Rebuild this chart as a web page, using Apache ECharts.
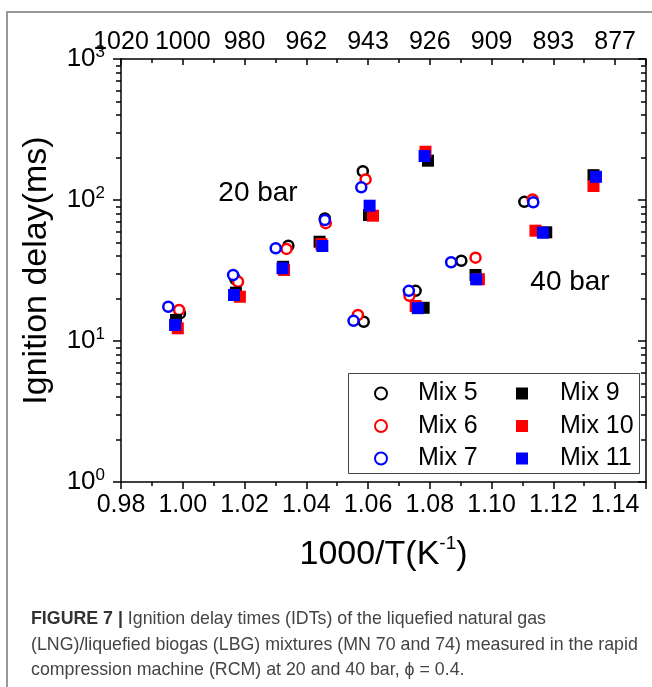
<!DOCTYPE html>
<html lang="en">
	<head>
		<meta charset="UTF-8" />
		<title>Ignition delay</title>
		<script src="https://cdn.jsdelivr.net/npm/echarts@6/dist/echarts.min.js"></script>
		<style>
			html, body { margin: 0; padding: 0; background: #fff; }
		</style>
	</head>
	<body>
		<div id="main" style="width: 652px; height: 687px"></div>
		<script type="text/javascript">
			// [1000/T, ignition delay (ms)]
			const mix5 = [[0.9991, 15.7], [1.0170, 27.5], [1.0342, 47.4], [1.0460, 74], [1.0583, 160],
				[1.0586, 13.7], [1.0754, 22.7], [1.0902, 37.1], [1.1106, 97]];
			const mix6 = [[0.9988, 16.6], [1.0179, 26.3], [1.0336, 45], [1.0463, 68.5], [1.0592, 140],
				[1.0567, 15.3], [1.0734, 20.9], [1.0948, 39], [1.1133, 101]];
			const mix7 = [[0.9953, 17.5], [1.0163, 29.4], [1.0301, 45.5], [1.0460, 72], [1.0578, 123],
				[1.0553, 13.9], [1.0732, 22.7], [1.0869, 36.2], [1.1135, 96.3]];
			const mix9 = [[0.9978, 14.1], [1.0172, 22], [1.0325, 33.6], [1.0443, 50.6], [1.0603, 78.3],
				[1.0794, 190], [1.0780, 17.2], [1.0948, 29.4], [1.1177, 59], [1.1330, 150]];
			const mix10 = [[0.9984, 12.3], [1.0185, 20.6], [1.0328, 31.9], [1.0449, 48.7], [1.0616, 77.4],
				[1.0786, 220], [1.0754, 17.7], [1.0959, 27.4], [1.1142, 60.6], [1.1330, 125.7]];
			const mix11 = [[0.9975, 13], [1.0166, 21.2], [1.0323, 32.8], [1.0452, 47.2], [1.0605, 91.1],
				[1.0783, 205], [1.0761, 17.1], [1.0950, 27.4], [1.1166, 58.6], [1.1338, 146]];

			// top axis: temperature (K) for each 1000/T tick
			const topLabels = ["1020", "1000", "980", "962", "943", "926", "909", "893", "877"];
			// log minor tick positions (2..9 per decade)
			const minorVals = [2, 3, 4, 5, 6, 7, 8, 9, 20, 30, 40, 50, 60, 70, 80, 90, 200, 300, 400, 500, 600, 700, 800, 900];

			const FONT = "Liberation Sans, Arial, sans-serif";
			const minorLog = minorVals.map((v) => Math.log10(v));

			let myChart = echarts.init(document.getElementById("main"));

			const axisLine = { show: true, onZero: false, lineStyle: { color: "#000", width: 1.5 } };

			function circleSeries(name, data, color) {
				return {
					name: name, type: "scatter", data: data, symbol: "circle", symbolSize: 10,
					itemStyle: { color: "#fff", borderColor: color, borderWidth: 2.5, opacity: 1 },
				};
			}
			function squareSeries(name, data, color) {
				return {
					name: name, type: "scatter", data: data, symbol: "rect", symbolSize: 12,
					itemStyle: { color: color, opacity: 1 },
				};
			}

			const legendBase = {
				orient: "vertical", top: 381, padding: 0, itemWidth: 12, itemHeight: 12, itemGap: 7.5,
				textStyle: { fontSize: 25, lineHeight: 24, color: "#000", fontFamily: FONT },
			};

			let options = {
				animation: false,
				textStyle: { fontFamily: FONT },
				grid: [
					{ left: 121, top: 59, right: 6, bottom: 205 },
					{ left: 121, top: 59, right: 6, bottom: 205 },
				],
				xAxis: [
					{
						type: "value", position: "bottom", min: 0.98, max: 1.15, interval: 0.02,
						axisLine: axisLine,
						axisTick: { show: true, inside: false, length: 7, lineStyle: { color: "#000", width: 1.5 } },
						minorTick: { show: true, splitNumber: 2, length: 4, lineStyle: { color: "#000", width: 1.5 } },
						splitLine: { show: false },
						axisLabel: {
							fontSize: 25, color: "#000", margin: 11, showMaxLabel: false,
							formatter: (v) => v.toFixed(2),
						},
						name: "{a|1000/T(K}{s|-1}{a|)}",
						nameLocation: "middle", nameGap: 52,
						nameTextStyle: {
							rich: {
								a: { fontSize: 34, lineHeight: 42, color: "#000", fontFamily: FONT },
								s: { fontSize: 19, lineHeight: 18, verticalAlign: "top", color: "#000", fontFamily: FONT },
							},
						},
					},
					{
						type: "value", position: "top", min: 0.98, max: 1.15, interval: 0.02,
						axisLine: axisLine,
						axisTick: { show: true, inside: true, length: 6, lineStyle: { color: "#000", width: 1.5 } },
						minorTick: { show: true, splitNumber: 2, length: 4, lineStyle: { color: "#000", width: 1.5 } },
						splitLine: { show: false },
						axisLabel: {
							fontSize: 25, color: "#000", margin: 4, showMaxLabel: false,
							formatter: (v) => topLabels[Math.round((v - 0.98) / 0.02)] || "",
						},
					},
					{ type: "value", gridIndex: 1, show: false, min: 0.98, max: 1.15 },
				],
				yAxis: [
					{
						type: "log", logBase: 10, position: "left", min: 1, max: 1000, splitNumber: 3,
						axisLine: axisLine,
						axisTick: { show: true, inside: false, length: 8, lineStyle: { color: "#000", width: 1.5 } },
						splitLine: { show: false },
						axisLabel: {
							margin: 16,
							formatter: (v) => "{b|10}{s|" + Math.round(Math.log10(v)) + "}",
							rich: {
								b: { fontSize: 26, lineHeight: 30, color: "#000", fontFamily: FONT },
								s: { fontSize: 17, lineHeight: 16, verticalAlign: "top", color: "#000", fontFamily: FONT },
							},
						},
						name: "Ignition delay(ms)",
						nameLocation: "middle", nameGap: 59,
						nameTextStyle: { fontSize: 34, lineHeight: 38, color: "#000", fontFamily: FONT },
					},
					{
						type: "log", logBase: 10, position: "right", min: 1, max: 1000, splitNumber: 3,
						axisLine: axisLine,
						axisTick: { show: true, inside: true, length: 8, lineStyle: { color: "#000", width: 1.5 } },
						splitLine: { show: false },
						axisLabel: { show: false },
					},
					{
						type: "value", gridIndex: 1, position: "left", min: 0, max: 3,
						axisLine: { show: false },
						axisTick: { show: true, inside: false, length: 5, customValues: minorLog, lineStyle: { color: "#000", width: 1.5 } },
						splitLine: { show: false },
						axisLabel: { show: false },
					},
					{
						type: "value", gridIndex: 1, position: "right", min: 0, max: 3,
						axisLine: { show: false },
						axisTick: { show: true, inside: true, length: 5, customValues: minorLog, lineStyle: { color: "#000", width: 1.5 } },
						splitLine: { show: false },
						axisLabel: { show: false },
					},
				],
				legend: [
					Object.assign({}, legendBase, {
						left: 374, data: ["Mix 5", "Mix 6", "Mix 7"],
						textStyle: Object.assign({}, legendBase.textStyle, { padding: [0, 0, 0, 26] }),
					}),
					Object.assign({}, legendBase, {
						left: 516, data: ["Mix 9", "Mix 10", "Mix 11"],
						textStyle: Object.assign({}, legendBase.textStyle, { padding: [0, 0, 0, 27] }),
					}),
				],
				series: [
					circleSeries("Mix 5", mix5, "#000000"),
					circleSeries("Mix 6", mix6, "#ff0000"),
					circleSeries("Mix 7", mix7, "#0000ff"),
					squareSeries("Mix 9", mix9, "#000000"),
					squareSeries("Mix 10", mix10, "#ff0000"),
					squareSeries("Mix 11", mix11, "#0000ff"),
				],
				graphic: [
					// figure frame
					{ type: "line", shape: { x1: 7, y1: 12, x2: 7, y2: 687 }, style: { stroke: "#999", lineWidth: 2 } },
					{ type: "line", shape: { x1: 6, y1: 12, x2: 652, y2: 12 }, style: { stroke: "#999", lineWidth: 2 } },
					// legend box
					{ type: "rect", shape: { x: 348.5, y: 373.5, width: 291, height: 100 }, style: { fill: "none", stroke: "#444", lineWidth: 1 } },
					// pressure annotations
					{ type: "text", x: 258, y: 193, style: { text: "20 bar", fontSize: 28, fontFamily: FONT, fill: "#000", align: "center", verticalAlign: "middle" } },
					{ type: "text", x: 570, y: 282, style: { text: "40 bar", fontSize: 28, fontFamily: FONT, fill: "#000", align: "center", verticalAlign: "middle" } },
					// caption
					{
						type: "text", x: 31, y: 619,
						style: {
							text: "{b|FIGURE 7 |} Ignition delay times (IDTs) of the liquefied natural gas",
							fontSize: 17.8, fontFamily: FONT, fill: "#444", verticalAlign: "middle",
							rich: { b: { fontSize: 17.8, fontWeight: "bold", fontFamily: FONT, fill: "#333" } },
						},
					},
					{
						type: "text", x: 31, y: 645,
						style: {
							text: "(LNG)/liquefied biogas (LBG) mixtures (MN 70 and 74) measured in the rapid",
							fontSize: 17.8, fontFamily: FONT, fill: "#444", verticalAlign: "middle",
						},
					},
					{
						type: "text", x: 31, y: 670,
						style: {
							text: "compression machine (RCM) at 20 and 40 bar, \u03d5 = 0.4.",
							fontSize: 17.8, fontFamily: FONT, fill: "#444", verticalAlign: "middle",
						},
					},
				],
			};

			myChart.setOption(options);
		</script>
	</body>
</html>
